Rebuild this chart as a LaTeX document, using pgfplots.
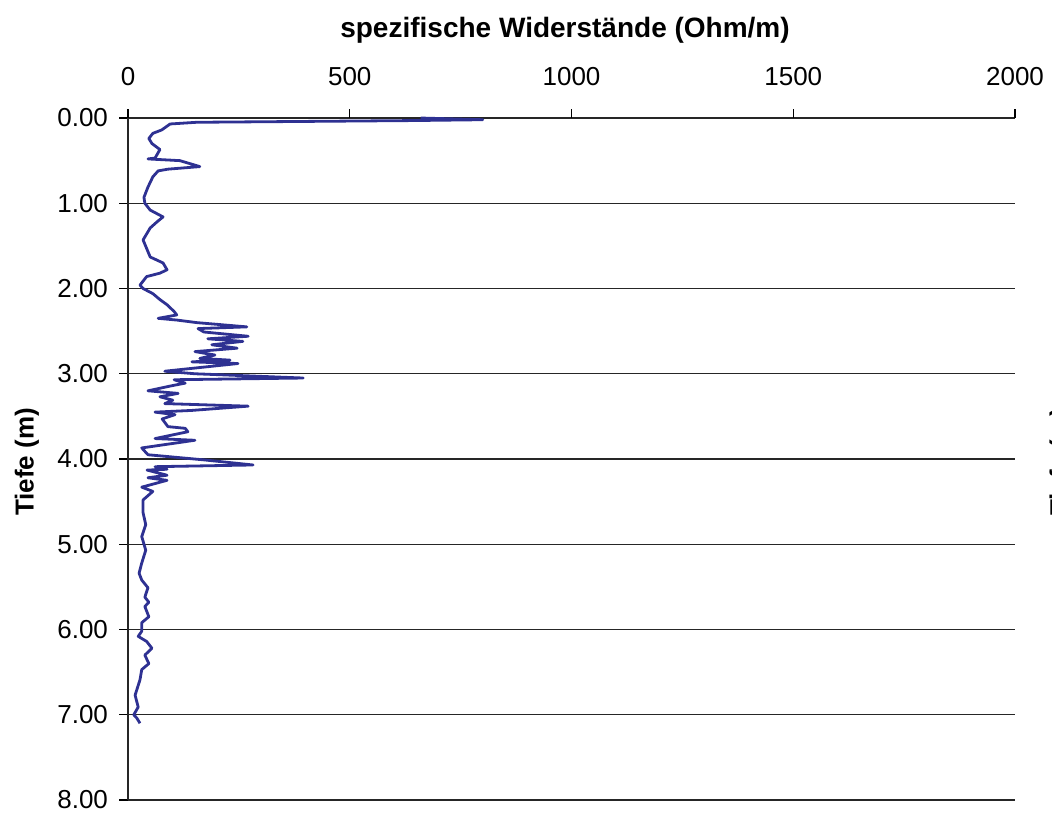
\documentclass[border=0pt]{standalone}
\usepackage{fontspec}
\setmainfont{Liberation Sans}
\usepackage{pgfplots}
\pgfplotsset{compat=1.18}
\definecolor{linienblau}{RGB}{46,49,146}

\begin{document}
\begin{tikzpicture}
  % Bildgroesse wie Vorlage: 1 px = 0.5pt
  \path[use as bounding box] (0,0) rectangle (526pt,409pt);
  \begin{axis}[
      at={(64pt,9pt)}, anchor=south west,
      scale only axis,
      width=443.5pt, height=341pt,
      xmin=0, xmax=2000,
      ymin=0, ymax=8,
      y dir=reverse,
      xtick={0,500,1000,1500,2000},
      ytick={0,1,...,8},
      tick align=outside,
      xtick pos=upper, xticklabel pos=upper, ytick pos=left,
      major tick length=4.5pt,
      tick style={black, line width=0.6pt},
      axis line style={draw=none},
      ymajorgrids,
      grid style={black!85, line width=0.7pt},
      /pgf/number format/assume math mode=true,
      /pgf/number format/1000 sep={},
      yticklabel style={/pgf/number format/fixed, /pgf/number format/fixed zerofill,
                        /pgf/number format/precision=2, xshift=-2pt},
      xticklabel style={yshift=8pt},
      ticklabel style={font=\fontsize{13}{15}\selectfont},
      clip=false,
    ]
    \draw[black!85, line width=0.7pt] (rel axis cs:0,0) -- (rel axis cs:0,1);
    \draw[black!85, line width=0.7pt] (rel axis cs:0,0) -- (rel axis cs:1,0);
    \addplot[linienblau, line width=1.4pt, line join=round] coordinates {
      (660,0.00) (800,0.02) (640,0.03) (400,0.04) (155,0.05) (95,0.07)
      (76,0.14) (56,0.18) (47,0.24) (54,0.30) (72,0.37) (61,0.47) (45,0.48)
      (117,0.50) (162,0.57) (90,0.60) (68,0.62) (56,0.69) (45,0.81) (36,0.93)
      (38,1.00) (50,1.08) (79,1.16) (65,1.22) (50,1.29) (34,1.43) (42,1.53)
      (50,1.63) (79,1.70) (88,1.78) (72,1.82) (42,1.86) (27,1.96) (34,2.00)
      (56,2.06) (72,2.13) (88,2.19) (104,2.27) (110,2.31) (68,2.35) (110,2.37)
      (155,2.40) (268,2.45) (158,2.47) (171,2.51) (271,2.56) (180,2.59)
      (259,2.62) (189,2.66) (246,2.70) (151,2.74) (196,2.78) (162,2.82)
      (230,2.84) (144,2.86) (248,2.88) (83,2.97) (151,3.00) (395,3.05)
      (104,3.07) (129,3.11) (99,3.14) (45,3.20) (113,3.23) (72,3.27) (101,3.31)
      (83,3.35) (271,3.38) (144,3.43) (61,3.45) (106,3.48) (77,3.53) (90,3.62)
      (129,3.64) (135,3.68) (61,3.76) (151,3.78) (31,3.87) (45,3.95) (171,4.01)
      (282,4.07) (61,4.09) (88,4.12) (43,4.13) (88,4.19) (45,4.22) (88,4.25)
      (31,4.33) (56,4.38) (34,4.48) (34,4.63) (40,4.77) (31,4.91) (40,5.07)
      (31,5.22) (25,5.34) (31,5.42) (45,5.51) (38,5.62) (47,5.68) (38,5.73)
      (47,5.85) (31,5.92) (31,6.02) (23,6.08) (42,6.14) (54,6.22) (38,6.30)
      (47,6.40) (31,6.47) (27,6.59) (16,6.77) (23,6.91) (13,7.00) (20,7.04)
      (27,7.10)
    };
  \end{axis}
  \node[font=\fontsize{14}{16}\selectfont\bfseries] at (282.5pt,394pt)
    {spezifische Widerstände (Ohm/m)};
  \node[rotate=90, font=\fontsize{13}{15}\selectfont\bfseries] at (13.5pt,178pt)
    {Tiefe (m)};
  \node[overlay, rotate=90, anchor=north, inner sep=0pt,
        font=\fontsize{13}{15}\selectfont\bfseries] at (524.5pt,178pt)
    {Tiefe (m)};
\end{tikzpicture}
\end{document}
